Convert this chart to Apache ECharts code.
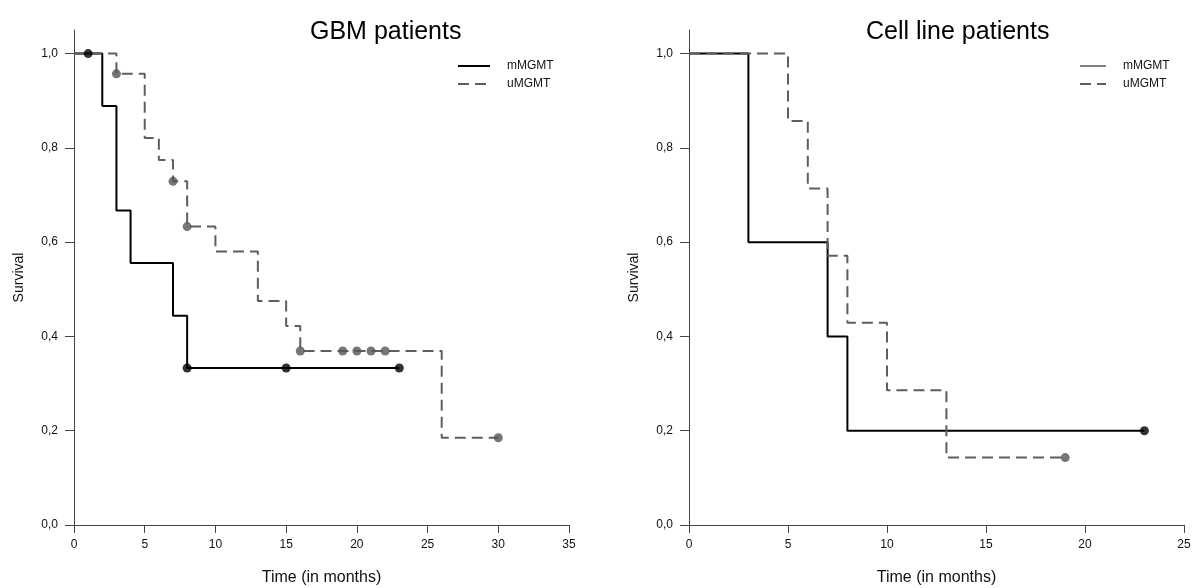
<!DOCTYPE html>
<html>
<head>
<meta charset="utf-8">
<script src="https://cdn.jsdelivr.net/npm/echarts@6/dist/echarts.min.js"></script>
<style>
  html, body { margin: 0; padding: 0; background: #fff; }
  #main { width: 1192px; height: 588px; }
</style>
</head>
<body>
<div id="main"></div>
<script>
// GBM patients - Kaplan-Meier steps
var gbmMTime = [0, 2, 3, 4, 7, 8, 23];
var gbmMSurv = [1, 0.889, 0.667, 0.556, 0.444, 0.333, 0.333];
var gbmMCensTime = [1, 8, 15, 23];
var gbmMCensSurv = [1, 0.333, 0.333, 0.333];

var gbmUTime = [0, 3, 5, 6, 7, 8, 10, 13, 15, 16, 26, 30];
var gbmUSurv = [1, 0.957, 0.821, 0.774, 0.729, 0.633, 0.58, 0.475, 0.422, 0.369, 0.185, 0.185];
var gbmUCensTime = [3, 7, 8, 16, 19, 20, 21, 22, 30];
var gbmUCensSurv = [0.957, 0.729, 0.633, 0.369, 0.369, 0.369, 0.369, 0.369, 0.185];

// Cell line patients
var cellMTime = [0, 3, 7, 8, 23];
var cellMSurv = [1, 0.6, 0.4, 0.2, 0.2];
var cellMCensTime = [23];
var cellMCensSurv = [0.2];

var cellUTime = [0, 5, 6, 7, 8, 10, 13, 19];
var cellUSurv = [1, 0.857, 0.714, 0.571, 0.429, 0.286, 0.143, 0.143];
var cellUCensTime = [19];
var cellUCensSurv = [0.143];

var yTicks = [0, 0.2, 0.4, 0.6, 0.8, 1.0];
var groups = ["mMGMT", "uMGMT"];

function pairs(t, s) {
  return t.map(function (v, i) { return [v, s[i]]; });
}

var font = "Liberation Sans, Arial, sans-serif";
var axisColor = "#444";
var grayLine = "#5e5e5e";

function xAxis(idx, max) {
  return {
    type: "value",
    gridIndex: idx,
    min: 0,
    max: max,
    interval: 5,
    name: "Time (in months)",
    nameLocation: "middle",
    nameGap: 45,
    nameTextStyle: { fontSize: 16, color: "#111", fontFamily: font },
    axisLine: { show: true, onZero: false, lineStyle: { color: axisColor, width: 1 } },
    axisTick: { show: true, inside: false, length: 8, lineStyle: { color: axisColor } },
    axisLabel: { fontSize: 12, color: "#111", fontFamily: font, margin: 14 },
    splitLine: { show: false },
  };
}

function yAxis(idx) {
  return {
    type: "value",
    gridIndex: idx,
    min: 0,
    max: 1.05,
    name: "Survival",
    nameLocation: "middle",
    nameGap: 48,
    nameTextStyle: { fontSize: 14, color: "#111", fontFamily: font },
    axisLine: { show: true, onZero: false, lineStyle: { color: axisColor, width: 1 } },
    axisTick: { show: true, length: 9, customValues: yTicks, lineStyle: { color: axisColor } },
    axisLabel: {
      fontSize: 12,
      color: "#111",
      fontFamily: font,
      margin: 16,
      customValues: yTicks,
      formatter: function (v) { return v.toFixed(1).replace(".", ","); },
    },
    splitLine: { show: false },
  };
}

function kmSeries(name, idx, data, color, dashed) {
  return {
    name: name,
    type: "line",
    xAxisIndex: idx,
    yAxisIndex: idx,
    step: "end",
    symbol: "none",
    data: data,
    lineStyle: { color: color, width: 2, type: dashed ? [11, 6] : "solid" },
    itemStyle: { color: color },
    silent: true,
    animation: false,
  };
}

function censSeries(name, idx, data, color) {
  return {
    name: name,
    type: "scatter",
    xAxisIndex: idx,
    yAxisIndex: idx,
    symbol: "circle",
    symbolSize: 9,
    data: data,
    itemStyle: { color: color },
    z: 5,
    animation: false,
  };
}

function legend(left, lineW, thinBlack) {
  var hidden = { color: "rgba(0,0,0,0)", borderWidth: 0, opacity: 0 };
  return {
    orient: "vertical",
    left: left,
    top: 60,
    padding: 0,
    itemWidth: lineW,
    itemHeight: 10,
    itemGap: 6,
    selectedMode: false,
    data: [
      { name: groups[0], itemStyle: hidden, lineStyle: { width: thinBlack ? 1 : 2 } },
      { name: groups[1], itemStyle: hidden },
    ],
    textStyle: { fontSize: 12, color: "#111", fontFamily: font, padding: [0, 0, 0, 12] },
  };
}

var dom = document.getElementById("main");
var myChart = echarts.init(dom, null, { renderer: "canvas" });

var option = {
  backgroundColor: "#fff",
  animation: false,
  title: [
    { text: "GBM patients", left: 305, top: 15, textStyle: { fontSize: 25, fontWeight: "normal", color: "#000", fontFamily: font } },
    { text: "Cell line patients", left: 861, top: 15, textStyle: { fontSize: 25, fontWeight: "normal", color: "#000", fontFamily: font } },
  ],
  legend: [legend(457, 32, false), legend(1079, 26, true)],
  grid: [
    { left: 74, right: 623, top: 30, bottom: 63, outerBoundsMode: "none", containLabel: false },
    { left: 689, right: 8, top: 30, bottom: 63, outerBoundsMode: "none", containLabel: false },
  ],
  xAxis: [xAxis(0, 35), xAxis(1, 25)],
  yAxis: [yAxis(0), yAxis(1)],
  series: [
    kmSeries(groups[0], 0, pairs(gbmMTime, gbmMSurv), "#000", false),
    kmSeries(groups[1], 0, pairs(gbmUTime, gbmUSurv), grayLine, true),
    censSeries("mMGMT censored", 0, pairs(gbmMCensTime, gbmMCensSurv), "#000"),
    censSeries("uMGMT censored", 0, pairs(gbmUCensTime, gbmUCensSurv), "#555"),
    kmSeries(groups[0], 1, pairs(cellMTime, cellMSurv), "#000", false),
    kmSeries(groups[1], 1, pairs(cellUTime, cellUSurv), grayLine, true),
    censSeries("mMGMT censored", 1, pairs(cellMCensTime, cellMCensSurv), "#000"),
    censSeries("uMGMT censored", 1, pairs(cellUCensTime, cellUCensSurv), "#555"),
  ],
};

myChart.setOption(option);
window.addEventListener("resize", myChart.resize);
</script>
</body>
</html>
